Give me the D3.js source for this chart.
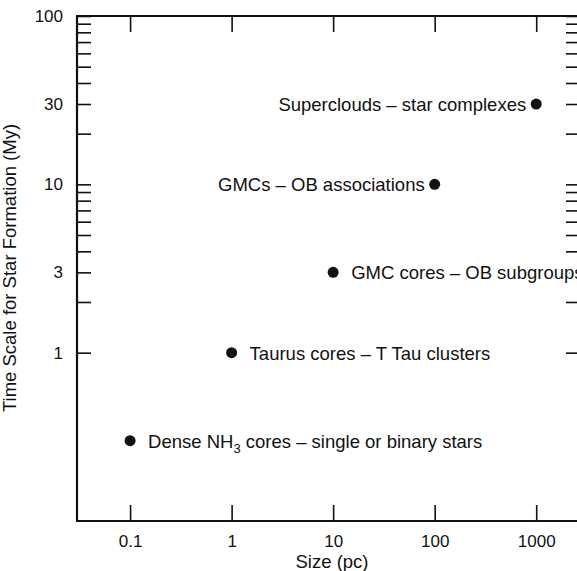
<!DOCTYPE html>
<html>
<head>
<meta charset="utf-8">
<script src="https://cdn.jsdelivr.net/npm/d3@7"></script>
<style>
  body { margin: 0; background: #fff; }
  svg { display: block; font-family: "Liberation Sans", Arial, Helvetica, sans-serif; }
  .axis path, .axis line { stroke: #111; }
  .axis text { font-size: 17px; fill: #111; }
  .note { font-size: 18.5px; fill: #111; }
  .lab { stroke: #fff; stroke-width: 4px; paint-order: stroke; stroke-linejoin: round; }
</style>
</head>
<body>
<div id="chart"></div>
<script>
// data
var sizes = [0.1, 1, 10, 100, 1000];          // pc
var times = [0.3, 1, 3, 10, 30];              // My
var names = [
  "Dense NH_3 cores \u2013 single or binary stars",
  "Taurus cores \u2013 T Tau clusters",
  "GMC cores \u2013 OB subgroups",
  "GMCs \u2013 OB associations",
  "Superclouds \u2013 star complexes"
];
var xTicks = [0.1, 1, 10, 100, 1000];
var yLabelTicks = [1, 3, 10, 30, 100];
var yMinorTicks = [1, 2, 3, 4, 5, 6, 7, 8, 9, 10, 20, 30, 40, 50, 60, 70, 80, 90, 100];

(function () {
    var W = 577, H = 571;
    var left = 77, right = 580, top = 16, bottom = 521;

    var svg = d3.select("#chart").append("svg")
        .attr("width", W)
        .attr("height", H);

    var x = d3.scaleLog().domain([0.03, 2700]).range([left, right]);
    var y = d3.scaleLog().domain([0.1, 100]).range([bottom, top]);

    //LEFT AXIS (ticks inward)
    var gl = svg.append("g")
        .attr("class", "axis")
        .attr("transform", "translate(" + left + ",0)")
        .call(d3.axisLeft(y)
            .tickValues(yMinorTicks)
            .tickSizeInner(-14)
            .tickSizeOuter(0)
            .tickPadding(14)
            .tickFormat(function (d) { return yLabelTicks.indexOf(d) >= 0 ? d : ""; }));
    gl.select(".domain").attr("d", "M0," + top + "V" + bottom).attr("stroke-width", 2.2);
    gl.selectAll(".tick line").attr("stroke-width", 1.6);
    gl.selectAll(".tick text").attr("font-family", null).attr("font-size", null);

    //RIGHT AXIS (line sits just outside the picture)
    var gr = svg.append("g")
        .attr("class", "axis")
        .attr("transform", "translate(" + right + ",0)")
        .call(d3.axisRight(y)
            .tickValues(yMinorTicks)
            .tickSizeInner(-14)
            .tickSizeOuter(0)
            .tickFormat(""));
    gr.select(".domain").attr("d", "M0," + top + "V" + bottom).attr("stroke-width", 2.2);
    gr.selectAll(".tick line").attr("stroke-width", 1.6);

    //BOTTOM AXIS
    var gb = svg.append("g")
        .attr("class", "axis")
        .attr("transform", "translate(0," + bottom + ")")
        .call(d3.axisBottom(x)
            .tickValues(xTicks)
            .tickSizeInner(-16)
            .tickSizeOuter(0)
            .tickPadding(14)
            .tickFormat(function (d) { return d; }));
    gb.select(".domain").attr("d", "M" + (left - 1) + ",0H" + right).attr("stroke-width", 2.2);
    gb.selectAll(".tick line").attr("stroke-width", 1.6);
    gb.selectAll(".tick text").attr("font-family", null).attr("font-size", null);

    //TOP AXIS
    var gt = svg.append("g")
        .attr("class", "axis")
        .attr("transform", "translate(0," + top + ")")
        .call(d3.axisTop(x)
            .tickValues(xTicks)
            .tickSizeInner(-16)
            .tickSizeOuter(0)
            .tickFormat(""));
    gt.select(".domain").attr("d", "M" + (left - 1) + ",0H" + right).attr("stroke-width", 2.2);
    gt.selectAll(".tick line").attr("stroke-width", 1.6);

    //AXIS TITLES
    svg.append("text")
        .attr("class", "note")
        .attr("x", 332)
        .attr("y", 568)
        .attr("text-anchor", "middle")
        .text("Size (pc)");

    svg.append("text")
        .attr("class", "note")
        .attr("transform", "translate(16,268) rotate(-90)")
        .attr("text-anchor", "middle")
        .text("Time Scale for Star Formation (My)");

    //POINTS
    var data = sizes.map(function (s, i) {
        return { size: s, time: times[i], name: names[i] };
    });

    svg.selectAll("circle.pt")
        .data(data)
        .enter().append("circle")
        .attr("class", "pt")
        .attr("cx", function (d) { return x(d.size); })
        .attr("cy", function (d) { return y(d.time); })
        .attr("r", 5.5)
        .attr("fill", "#111");

    //LABELS (largest clumps labelled on the left of their dot)
    var labels = svg.selectAll("text.lab")
        .data(data)
        .enter().append("text")
        .attr("class", "note lab")
        .attr("x", function (d) { return x(d.size) + (d.size >= 100 ? -10 : 18); })
        .attr("y", function (d) { return y(d.time) + 7; })
        .attr("text-anchor", function (d) { return d.size >= 100 ? "end" : "start"; });

    labels.each(function (d) {
        var t = d3.select(this);
        var parts = d.name.split(/_(\d)/);
        parts.forEach(function (p, i) {
            if (i % 2 === 1) {
                t.append("tspan").attr("font-size", "13px").attr("dy", 5).text(p);
            } else if (p.length) {
                t.append("tspan").attr("dy", i > 0 ? -5 : null).text(p);
            }
        });
    });
})();
</script>
</body>
</html>
